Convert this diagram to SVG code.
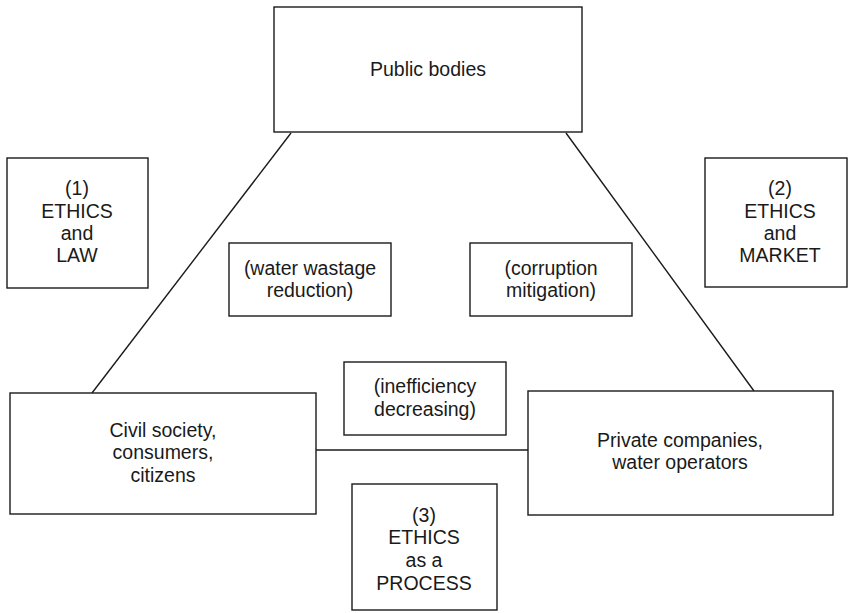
<svg xmlns="http://www.w3.org/2000/svg" width="849" height="613" viewBox="0 0 849 613">
<style>
rect{fill:#fff;stroke:#1a1a1a;stroke-width:1.4}
line{stroke:#1a1a1a;stroke-width:1.4}
text{font-family:"Liberation Sans",Arial,sans-serif;font-size:19.5px;fill:#1a1a1a;text-anchor:middle}
</style>
<rect x="0" y="0" width="849" height="613" style="stroke:none"/>
<g id="connectors">
<line x1="291" y1="133" x2="92" y2="393"/>
<line x1="566" y1="133" x2="754" y2="391"/>
<line x1="316" y1="450" x2="528" y2="450"/>
</g>
<g id="public-bodies">
<rect x="274" y="7" width="308" height="125"/>
<text x="428" y="76">Public bodies</text>
</g>
<g id="ethics-law">
<rect x="7" y="158" width="141" height="130"/>
<text x="77" y="195">(1)</text>
<text x="77" y="218">ETHICS</text>
<text x="77" y="240">and</text>
<text x="77" y="262">LAW</text>
</g>
<g id="ethics-market">
<rect x="705" y="158" width="142" height="129"/>
<text x="780" y="195">(2)</text>
<text x="780" y="218">ETHICS</text>
<text x="780" y="240">and</text>
<text x="780" y="262">MARKET</text>
</g>
<g id="water-wastage">
<rect x="229" y="243" width="162" height="73"/>
<text x="310" y="275">(water wastage</text>
<text x="310" y="297">reduction)</text>
</g>
<g id="corruption">
<rect x="470" y="243" width="162" height="73"/>
<text x="551" y="275">(corruption</text>
<text x="551" y="297">mitigation)</text>
</g>
<g id="inefficiency">
<rect x="344" y="362" width="162" height="73"/>
<text x="425" y="393">(inefficiency</text>
<text x="425" y="416">decreasing)</text>
</g>
<g id="civil-society">
<rect x="10" y="393" width="306" height="121"/>
<text x="163" y="437">Civil society,</text>
<text x="163" y="459">consumers,</text>
<text x="163" y="482">citizens</text>
</g>
<g id="private-companies">
<rect x="528" y="391" width="305" height="124"/>
<text x="680" y="447">Private companies,</text>
<text x="680" y="469">water operators</text>
</g>
<g id="ethics-process">
<rect x="352" y="484" width="145" height="126"/>
<text x="424" y="522">(3)</text>
<text x="424" y="544">ETHICS</text>
<text x="424" y="567">as a</text>
<text x="424" y="590">PROCESS</text>
</g>
</svg>
